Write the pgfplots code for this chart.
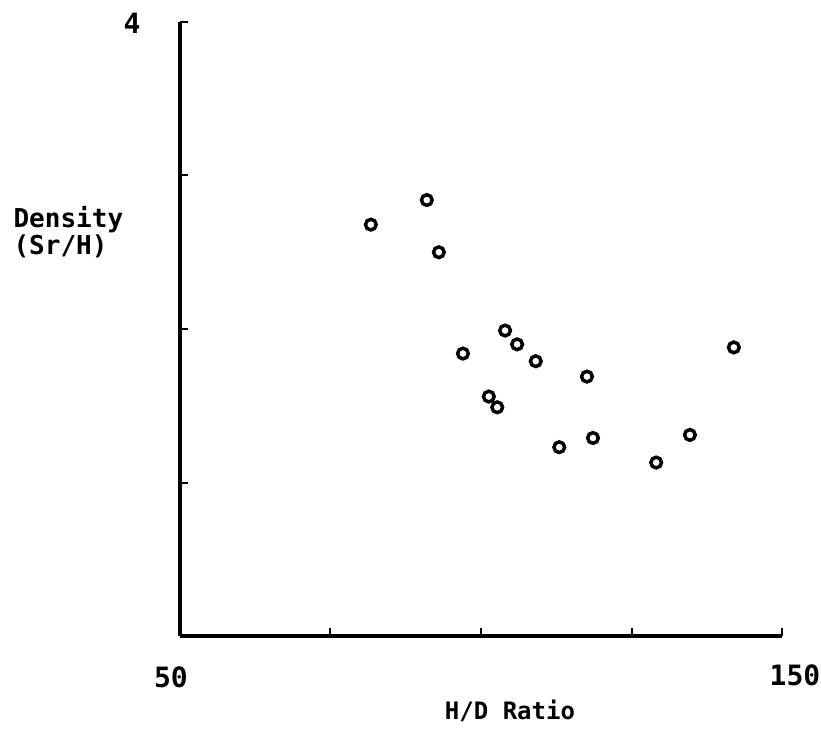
\documentclass[border=0pt]{standalone}
\usepackage{fontspec}
\setmainfont{DejaVu Sans Mono}
\usepackage{pgfplots}
\pgfplotsset{compat=1.18}

\begin{document}
\begin{tikzpicture}[
  num/.style={font=\fontsize{21}{22}\selectfont\bfseries, inner sep=0pt},
  lab/.style={font=\fontsize{18}{18}\selectfont\bfseries, inner sep=0pt},
]
\begin{axis}[
  at={(0,0)}, anchor=south west,
  scale only axis, width=451.5pt, height=460.5pt,
  xmin=50, xmax=150, ymin=0, ymax=4,
  axis x line*=bottom, axis y line*=left,
  axis line style={-, line width=2.4pt},
  xtick={75,100,125,150}, ytick={1,2,3,4},
  xticklabels={}, yticklabels={},
  tick align=inside, major tick length=6pt,
  tick style={line width=1.5pt, black},
  clip=false,
]
\addplot[only marks, mark=o, mark size=4pt, mark options={line width=2.6pt}] coordinates {
  (81.7,2.68) (91.0,2.84) (93.0,2.50) (97.0,1.84) (101.3,1.56)
  (102.7,1.49) (104.0,1.99) (106.0,1.90) (109.1,1.79) (113.0,1.23)
  (117.6,1.69) (118.6,1.29) (129.1,1.13) (134.7,1.31) (142.0,1.88)
};
\node[num] at (axis cs:50,4) [xshift=-36pt, yshift=-0.75pt] {4};
\node[num] at (axis cs:50,0) [xshift=-6.75pt, yshift=-30.75pt] {50};
\node[num] at (axis cs:150,0) [xshift=9.75pt, yshift=-29.25pt] {150};
\node[lab] at (axis cs:100,0) [xshift=21.75pt, yshift=-56.5pt] {H/D Ratio};
\node[font=\fontsize{19.5}{18}\selectfont\bfseries, inner sep=0pt, anchor=west, align=left]
  at (axis cs:50,2.63) [xshift=-125pt] {Density\\(Sr/H)};
\end{axis}
\pgfresetboundingbox
\useasboundingbox (-135pt,-72pt) rectangle (480.75pt,477pt);
\end{tikzpicture}
\end{document}
